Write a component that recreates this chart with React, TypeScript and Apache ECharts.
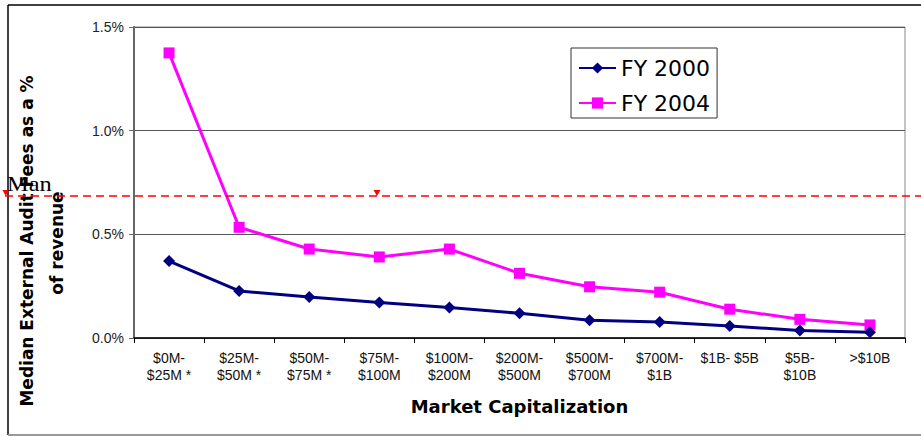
import React, { useEffect, useRef } from "react";
import * as echarts from "echarts";

const categories = [
  "$0M-\n$25M *",
  "$25M-\n$50M *",
  "$50M-\n$75M *",
  "$75M-\n$100M",
  "$100M-\n$200M",
  "$200M-\n$500M",
  "$500M-\n$700M",
  "$700M-\n$1B",
  "$1B- $5B",
  "$5B-\n$10B",
  ">$10B",
];
const fy2000 = [0.371, 0.227, 0.198, 0.171, 0.147, 0.119, 0.086, 0.077, 0.058, 0.036, 0.028];
const fy2004 = [1.375, 0.534, 0.429, 0.391, 0.429, 0.312, 0.247, 0.221, 0.139, 0.09, 0.063];
const seriesNames = ["FY 2000", "FY 2004"];
const yMin = 0;
const yMax = 1.5;
const yInterval = 0.5;
const refLineValue = 0.685;
const refLabel = "Man";
const xTitle = "Market Capitalization";
const yTitleLines = ["Median External Audit Fees as a %", "of revenue"];

const SANS = '"DejaVu Sans", sans-serif';
const ARIAL = '"Liberation Sans", Arial, sans-serif';

export default function App() {
  const ref = useRef<HTMLDivElement>(null);
  useEffect(() => {
    if (!ref.current) return;
    const chart = echarts.init(ref.current, null, { renderer: "svg" });
    chart.setOption({
      animation: false,
      backgroundColor: "#ffffff",
      grid: {
        left: 134,
        right: 16,
        top: 27,
        bottom: 98,
        show: true,
        borderColor: "#888888",
        borderWidth: 1,
        backgroundColor: "transparent",
      },
      legend: {
        data: seriesNames,
        orient: "vertical",
        left: 571,
        top: 48,
        padding: [9, 7, 4, 7],
        itemWidth: 37,
        itemHeight: 14,
        itemGap: 13,
        itemTextGap: 7,
        borderColor: "#333333",
        borderWidth: 1,
        backgroundColor: "#ffffff",
        textStyle: { fontFamily: SANS, fontSize: 22, color: "#000000" },
      },
      xAxis: {
        type: "category",
        data: categories,
        boundaryGap: true,
        name: xTitle,
        nameLocation: "middle",
        nameGap: 59,
        nameTextStyle: { fontFamily: SANS, fontSize: 18, fontWeight: "bold", color: "#000000" },
        axisLine: { lineStyle: { color: "#000000", width: 1.5 } },
        axisTick: { show: true, length: 5, lineStyle: { color: "#000000" }, alignWithLabel: false },
        axisLabel: {
          interval: 0,
          margin: 11,
          fontFamily: ARIAL,
          fontSize: 14,
          lineHeight: 17,
          color: "#111111",
        },
        splitLine: { show: false },
      },
      yAxis: {
        type: "value",
        min: yMin,
        max: yMax,
        interval: yInterval,
        axisLine: { show: true, lineStyle: { color: "#666666", width: 2 } },
        axisTick: { show: true, length: 5, lineStyle: { color: "#666666" } },
        axisLabel: {
          margin: 10,
          fontFamily: ARIAL,
          fontSize: 14,
          color: "#222222",
          formatter: (v: number) => v.toFixed(1) + "%",
        },
        splitLine: { show: true, lineStyle: { color: "#555555", width: 1 } },
      },
      series: [
        {
          name: seriesNames[0],
          type: "line",
          data: fy2000,
          symbol: "diamond",
          symbolSize: 12,
          lineStyle: { color: "#000080", width: 3 },
          itemStyle: { color: "#000080" },
          z: 3,
        },
        {
          name: seriesNames[1],
          type: "line",
          data: fy2004,
          symbol: "rect",
          symbolSize: 11,
          lineStyle: { color: "#ff00ff", width: 3 },
          itemStyle: { color: "#ff00ff" },
          z: 2,
        },
      ],
    });

    const yPix = chart.convertToPixel({ yAxisIndex: 0 }, refLineValue) as number;

    chart.setOption({
      graphic: [
        {
          type: "line",
          shape: { x1: 8, y1: 5, x2: 921, y2: 5 },
          style: { stroke: "#000000", lineWidth: 1.5 },
          z: 10,
        },
        {
          type: "line",
          shape: { x1: 8, y1: 5, x2: 8, y2: 435 },
          style: { stroke: "#000000", lineWidth: 1.5 },
          z: 10,
        },
        {
          type: "line",
          shape: { x1: 8, y1: 435, x2: 921, y2: 435 },
          style: { stroke: "#999999", lineWidth: 2 },
          z: 10,
        },
        {
          type: "text",
          x: 27,
          y: 241,
          rotation: Math.PI / 2,
          style: {
            text: yTitleLines[0],
            align: "center",
            verticalAlign: "middle",
            font: 'bold 17px "DejaVu Sans", sans-serif',
            fill: "#000000",
          },
          z: 10,
        },
        {
          type: "text",
          x: 57,
          y: 243,
          rotation: Math.PI / 2,
          style: {
            text: yTitleLines[1],
            align: "center",
            verticalAlign: "middle",
            font: 'bold 17px "DejaVu Sans", sans-serif',
            fill: "#000000",
          },
          z: 10,
        },
        {
          type: "line",
          shape: { x1: 5, y1: yPix, x2: 921, y2: yPix },
          style: { stroke: "#ff0000", lineWidth: 1.5, lineDash: [8, 5] },
          z: 11,
        },
        {
          type: "polygon",
          shape: { points: [[2.5, yPix - 6], [9, yPix - 6], [5.7, yPix]] },
          style: { fill: "#ff0000" },
          z: 12,
        },
        {
          type: "polygon",
          shape: { points: [[373.5, yPix - 6], [380.5, yPix - 6], [377, yPix]] },
          style: { fill: "#ff0000" },
          z: 12,
        },
        {
          type: "text",
          x: 7,
          y: yPix - 2,
          scaleX: 1.22,
          style: {
            text: refLabel,
            align: "left",
            verticalAlign: "bottom",
            font: '20px "Liberation Serif", serif',
            fill: "#000000",
          },
          z: 13,
        },
      ],
    });

    return () => chart.dispose();
  }, []);
  return (
    <div
      ref={ref}
      style={{ position: "fixed", left: 0, top: 0, width: 921, height: 436 }}
    />
  );
}
